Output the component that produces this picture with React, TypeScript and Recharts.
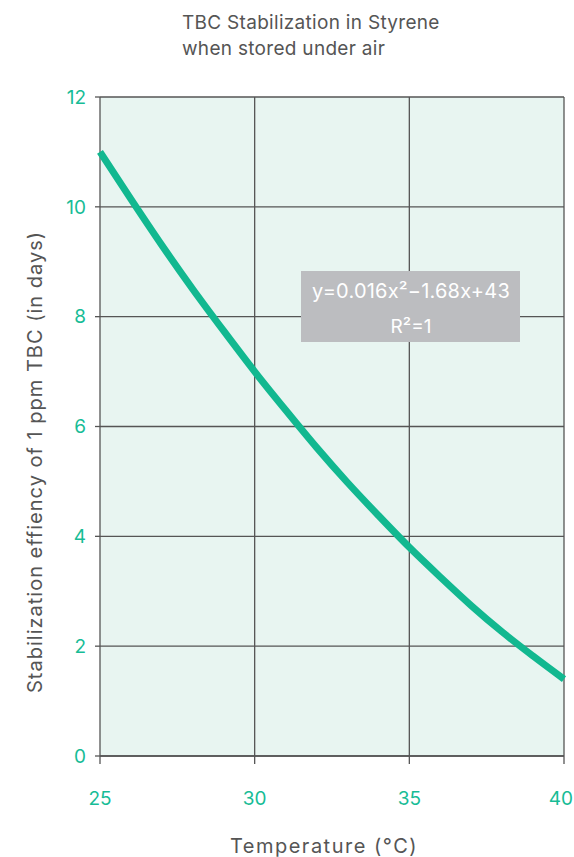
import React from 'react';
import { LineChart, Line, XAxis, YAxis, CartesianGrid, Customized } from 'recharts';

const temperatures = [25, 26, 27, 28, 29, 30, 31, 32, 33, 34, 35, 36, 37, 38, 39, 40];
const stabilizationDays = [11.0, 10.14, 9.3, 8.5, 7.74, 7.0, 6.3, 5.62, 4.98, 4.38, 3.8, 3.26, 2.74, 2.26, 1.82, 1.4];
const xTicks = [25, 30, 35, 40];
const yTicks = [0, 2, 4, 6, 8, 10, 12];
const titleLines = ['TBC Stabilization in Styrene', 'when stored under air'];
const equationLines = ['y=0.016x²−1.68x+43', 'R²=1'];
const xTitle = 'Temperature (°C)';
const yTitle = 'Stabilization effiency of 1 ppm TBC (in days)';

const data = temperatures.map((t, i) => ({ t, v: stabilizationDays[i] }));

const FONT = 'Inter, "Open Sans", sans-serif';
const TEAL = '#17bc96';
const GRAY = '#555555';

const XTick = (props: any) => {
  const { x, y, payload, index } = props;
  const last = index === xTicks.length - 1;
  return (
    <text
      x={last ? x + 9 : x}
      y={y}
      dy="0.71em"
      textAnchor={last ? 'end' : 'middle'}
      fill={TEAL}
      fontSize={19}
      fontFamily={FONT}
    >
      {payload.value}
    </text>
  );
};

const Overlay = () => (
  <g>
    <text x={182} y={29} fontSize={19} letterSpacing={0.3} fill={GRAY} fontFamily={FONT}>{titleLines[0]}</text>
    <text x={182} y={55} fontSize={19} letterSpacing={0.3} fill={GRAY} fontFamily={FONT}>{titleLines[1]}</text>
    <rect x={301} y={271} width={219} height={71} fill="#bcbdc0" />
    <text x={411} y={298} fontSize={20} letterSpacing={0.2} fill="#ffffff" textAnchor="middle" fontFamily={FONT}>{equationLines[0]}</text>
    <text x={411} y={333} fontSize={19} fill="#ffffff" textAnchor="middle" fontFamily={FONT}>{equationLines[1]}</text>
    <text x={324} y={853} fontSize={20} letterSpacing={1.5} fill={GRAY} textAnchor="middle" fontFamily={FONT}>{xTitle}</text>
    <text x={42} y={462} fontSize={20} letterSpacing={1.0} fill={GRAY} textAnchor="middle" fontFamily={FONT} transform="rotate(-90 42 462)">{yTitle}</text>
  </g>
);

export default function App() {
  return (
    <div style={{ position: 'absolute', left: 0, top: 0, width: 574, height: 857, background: '#fff' }}>
      <LineChart width={574} height={857} data={data} margin={{ top: 97, right: 10, left: 40, bottom: 41 }}>
        <CartesianGrid stroke={GRAY} strokeWidth={1.3} fill="#e8f5f1" horizontalValues={yTicks} verticalValues={xTicks} />
        <XAxis
          dataKey="t"
          type="number"
          domain={[25, 40]}
          ticks={xTicks}
          height={60}
          tickSize={8}
          tickMargin={28}
          stroke={GRAY}
          strokeWidth={1.3}
          tick={<XTick />}
        />
        <YAxis
          type="number"
          domain={[0, 12]}
          ticks={yTicks}
          width={60}
          tickSize={5}
          tickMargin={9}
          stroke={GRAY}
          strokeWidth={1.3}
          axisLine={false}
          tick={{ fill: TEAL, fontSize: 19, fontFamily: FONT }}
        />
        <Line type="monotone" dataKey="v" stroke="#12b890" strokeWidth={7} dot={false} isAnimationActive={false} />
        <Customized component={Overlay} />
      </LineChart>
    </div>
  );
}
